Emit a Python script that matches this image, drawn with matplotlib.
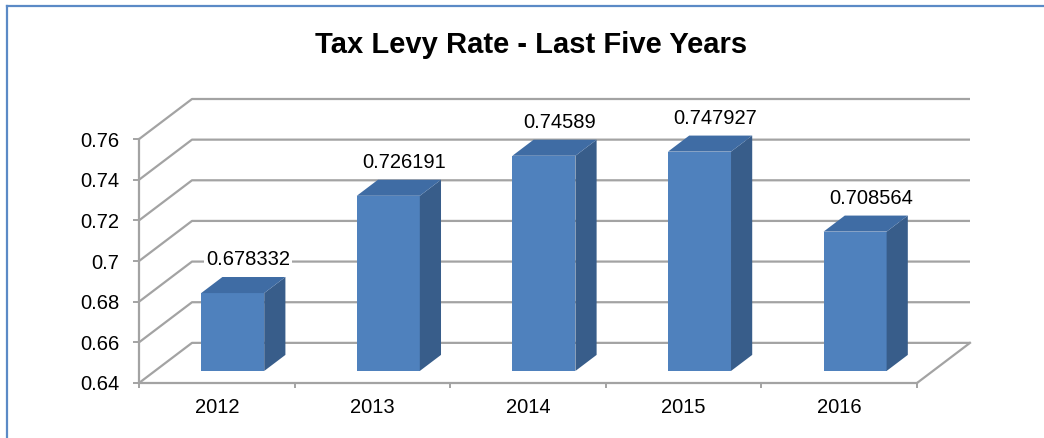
import matplotlib
matplotlib.use("Agg")
import matplotlib.pyplot as plt
from matplotlib.patches import Polygon
from matplotlib.lines import Line2D

plt.rcParams['font.family'] = ['Liberation Sans', 'DejaVu Sans']

# Data
years = ['2012', '2013', '2014', '2015', '2016']
levy_rate = [0.678332, 0.726191, 0.74589, 0.747927, 0.708564]
y_ticks = [0.64, 0.66, 0.68, 0.70, 0.72, 0.74, 0.76]
y_tick_labels = ['0.64', '0.66', '0.68', '0.7', '0.72', '0.74', '0.76']
title = 'Tax Levy Rate - Last Five Years'

# Oblique depth offsets (data units) for the pseudo-3D look
DX = 0.3406          # horizontal shift of the back wall, in categories
DY = 0.01975         # vertical shift of the back wall, in value units
BAR_HALF = 0.2025    # half-width of a column's front face
D0, D1 = 0.3, 0.7    # depth range occupied by the columns

FRONT = '#4F81BD'
SIDE = '#385D8A'
TOP = '#3F6CA4'
GRID = '#A3A3A3'

W, H = 1044, 438
fig = plt.figure(figsize=(W / 100, H / 100), dpi=100)
fig.patch.set_facecolor('white')

ax = fig.add_axes([139 / W, (H - 383) / H, 831 / W, 284 / H])
n = len(years)
ymin, ymax = y_ticks[0], y_ticks[-1]
ax.set_xlim(0, n + DX)
ax.set_ylim(ymin, ymax + DY)
ax.set_facecolor('none')

for s in ('top', 'right'):
    ax.spines[s].set_visible(False)
for s in ('left', 'bottom'):
    ax.spines[s].set_color(GRID)
    ax.spines[s].set_linewidth(1.6)
    ax.spines[s].set_zorder(1)
ax.spines['left'].set_bounds(ymin, ymax)
ax.spines['bottom'].set_bounds(0, n)

ax.set_yticks(y_ticks)
ax.set_yticklabels(y_tick_labels)
ax.tick_params(axis='y', direction='out', length=4.3, width=1.4, color=GRID,
               pad=10, labelsize=14.5, labelcolor='black')
ax.set_xticks(range(n + 1))
ax.set_xticklabels([''] * (n + 1))
ax.tick_params(axis='x', which='major', direction='out', length=3.6, width=1.4,
               color=GRID)
ax.set_xticks([i + 0.5 for i in range(n)], minor=True)
ax.set_xticklabels(years, minor=True)
ax.tick_params(axis='x', which='minor', length=0, pad=11, labelsize=14.5,
               labelcolor='black')

# Side wall and back wall gridlines
for v in y_ticks:
    ax.plot([0, DX, n + DX], [v + 0, v + DY, v + DY], color=GRID, lw=1.6,
            clip_on=False, zorder=1, solid_capstyle='butt')
# Right edge of the floor
ax.plot([n, n + DX], [ymin, ymin + DY], color=GRID, lw=1.6, clip_on=False, zorder=1)

# Columns
for i, v in enumerate(levy_rate):
    x0 = i + 0.5 - BAR_HALF + D0 * DX
    x1 = i + 0.5 + BAR_HALF + D0 * DX
    yb = ymin + D0 * DY
    yt = v + D0 * DY
    ddx = (D1 - D0) * DX
    ddy = (D1 - D0) * DY
    ax.add_patch(Polygon([(x0, yb), (x1, yb), (x1, yt), (x0, yt)], closed=True,
                         facecolor=FRONT, edgecolor='none', zorder=3, clip_on=False))
    ax.add_patch(Polygon([(x1, yb), (x1 + ddx, yb + ddy), (x1 + ddx, yt + ddy), (x1, yt)],
                         closed=True, facecolor=SIDE, edgecolor='none', zorder=3,
                         clip_on=False))
    ax.add_patch(Polygon([(x0, yt), (x1, yt), (x1 + ddx, yt + ddy), (x0 + ddx, yt + ddy)],
                         closed=True, facecolor=TOP, edgecolor='none', zorder=3,
                         clip_on=False))
    # Value label above the column
    ax.annotate(f'{v:g}', xy=(i + 0.5 + 0.5 * DX, v + D1 * DY),
                xytext=(3.6, 12.6), textcoords='offset points',
                ha='center', va='center', fontsize=14.5, color='black', zorder=5,
                annotation_clip=False,
                bbox=dict(boxstyle='square,pad=0.1', facecolor='white', edgecolor='none'))

fig.text(531 / W, (H - 53) / H, title, ha='center', va='baseline',
         fontsize=21, fontweight='bold', color='black')

# Chart frame (top and left edges)
frame_col = '#5B8AC6'
fig.add_artist(Line2D([6.5 / W, 1.0], [(H - 5.5) / H, (H - 5.5) / H],
                      transform=fig.transFigure, color=frame_col, lw=1.6))
fig.add_artist(Line2D([6.5 / W, 6.5 / W], [0, (H - 5.5) / H],
                      transform=fig.transFigure, color=frame_col, lw=1.6))

fig.savefig('out.png', dpi=100, facecolor='white')
